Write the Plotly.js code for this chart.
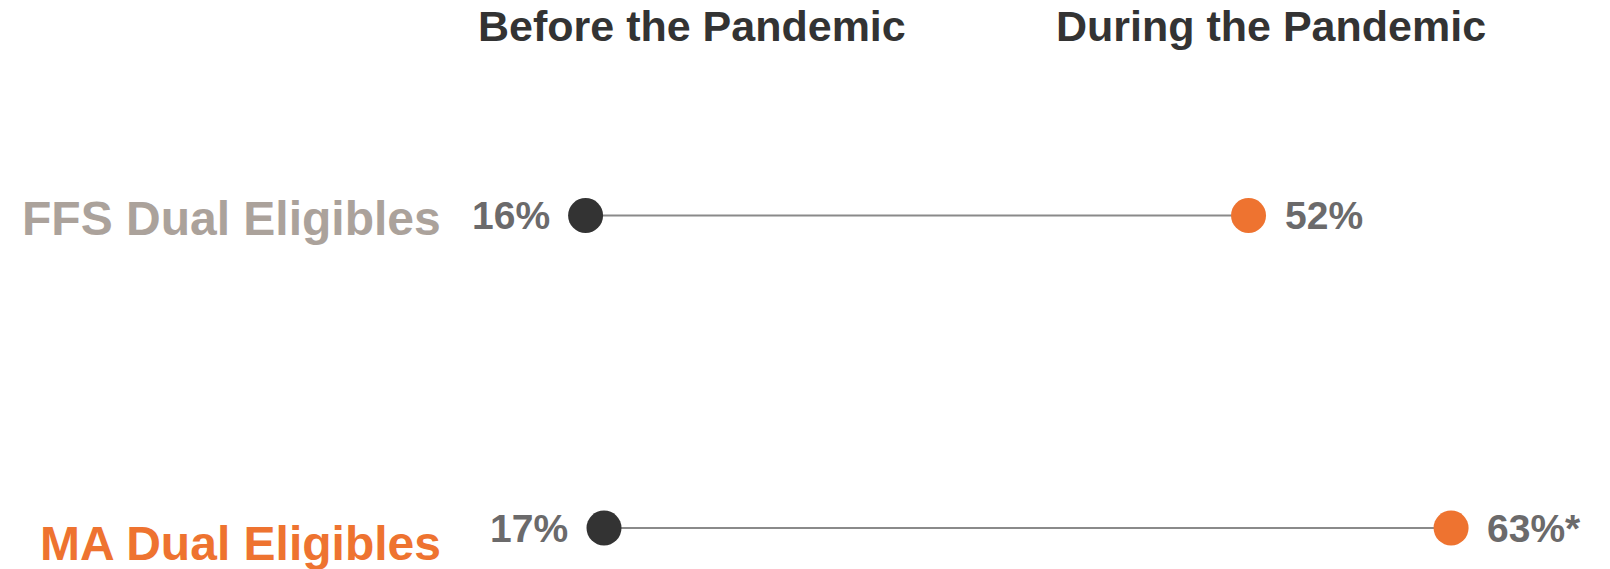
<!DOCTYPE html>
<html>
<head>
<meta charset="utf-8">
<script src="https://cdn.plot.ly/plotly-3.0.1.min.js"></script>
<style>
  html, body { margin: 0; padding: 0; background: #ffffff; }
  #chart { width: 1610px; height: 569px; }
</style>
</head>
<body>
<div id="chart"></div>
<script>
// ---- data ----
const categories = ['FFS Dual Eligibles', 'MA Dual Eligibles'];
const categoryColors = ['#aba29b', '#ee7330'];
const beforeValues = [16, 17];
const duringValues = [52, 63];
const duringNotes = ['', '*'];
const columnHeaders = ['Before the Pandemic', 'During the Pandemic'];

// ---- styles ----
const FONT = '"Liberation Sans", Arial, Helvetica, sans-serif';
const DARK = '#333333';
const ORANGE = '#ee7330';
const VALUE_GRAY = '#6b6a6b';

// connecting lines (one segment per category, separated by null)
const lineX = [], lineY = [];
categories.forEach((c, i) => {
  lineX.push(beforeValues[i], duringValues[i], null);
  lineY.push(c, c, null);
});

const traces = [
  {
    type: 'scatter', mode: 'lines', x: lineX, y: lineY,
    line: { color: '#8a8a8a', width: 2 }, hoverinfo: 'skip', showlegend: false
  },
  {
    type: 'scatter', mode: 'markers', x: beforeValues, y: categories,
    marker: { color: DARK, size: 35 }, showlegend: false, name: columnHeaders[0]
  },
  {
    type: 'scatter', mode: 'markers', x: duringValues, y: categories,
    marker: { color: ORANGE, size: 35 }, showlegend: false, name: columnHeaders[1]
  }
];

const annotations = [];
// value labels
categories.forEach((c, i) => {
  annotations.push({
    x: beforeValues[i], y: c, xref: 'x', yref: 'y',
    text: '<b>' + beforeValues[i] + '%</b>', showarrow: false,
    xanchor: 'right', yanchor: 'middle', xshift: -34,
    font: { family: FONT, size: 39, color: VALUE_GRAY }
  });
  annotations.push({
    x: duringValues[i], y: c, xref: 'x', yref: 'y',
    text: '<b>' + duringValues[i] + '%' + duringNotes[i] + '</b>', showarrow: false,
    xanchor: 'left', yanchor: 'middle', xshift: 34,
    font: { family: FONT, size: 39, color: VALUE_GRAY }
  });
});
// category labels
const labelShift = [-3, -15];
categories.forEach((c, i) => {
  annotations.push({
    x: 443 / 1610, y: c, xref: 'paper', yref: 'y',
    text: '<b>' + c + '</b>', showarrow: false,
    xanchor: 'right', yanchor: 'middle', yshift: labelShift[i],
    font: { family: FONT, size: 48, color: categoryColors[i] }
  });
});
// column headers
const headerX = [692 / 1610, 1271 / 1610];
columnHeaders.forEach((h, i) => {
  annotations.push({
    x: headerX[i], y: 1 - 26 / 569, xref: 'paper', yref: 'paper',
    text: '<b>' + h + '</b>', showarrow: false,
    xanchor: 'center', yanchor: 'middle',
    font: { family: FONT, size: 43, color: DARK }
  });
});

const layout = {
  width: 1610, height: 569,
  margin: { l: 0, r: 0, t: 0, b: 0, pad: 0 },
  paper_bgcolor: '#ffffff', plot_bgcolor: '#ffffff',
  showlegend: false,
  hovermode: false,
  xaxis: {
    type: 'linear', range: [-15.8, 71.63],
    showgrid: false, zeroline: false, showticklabels: false, showline: false, ticks: ''
  },
  yaxis: {
    type: 'category', categoryarray: categories, categoryorder: 'array',
    range: [1.1312, -0.6896],
    showgrid: false, zeroline: false, showticklabels: false, showline: false, ticks: ''
  },
  annotations: annotations
};

Plotly.newPlot('chart', traces, layout, { displayModeBar: false, staticPlot: true });
</script>
</body>
</html>
